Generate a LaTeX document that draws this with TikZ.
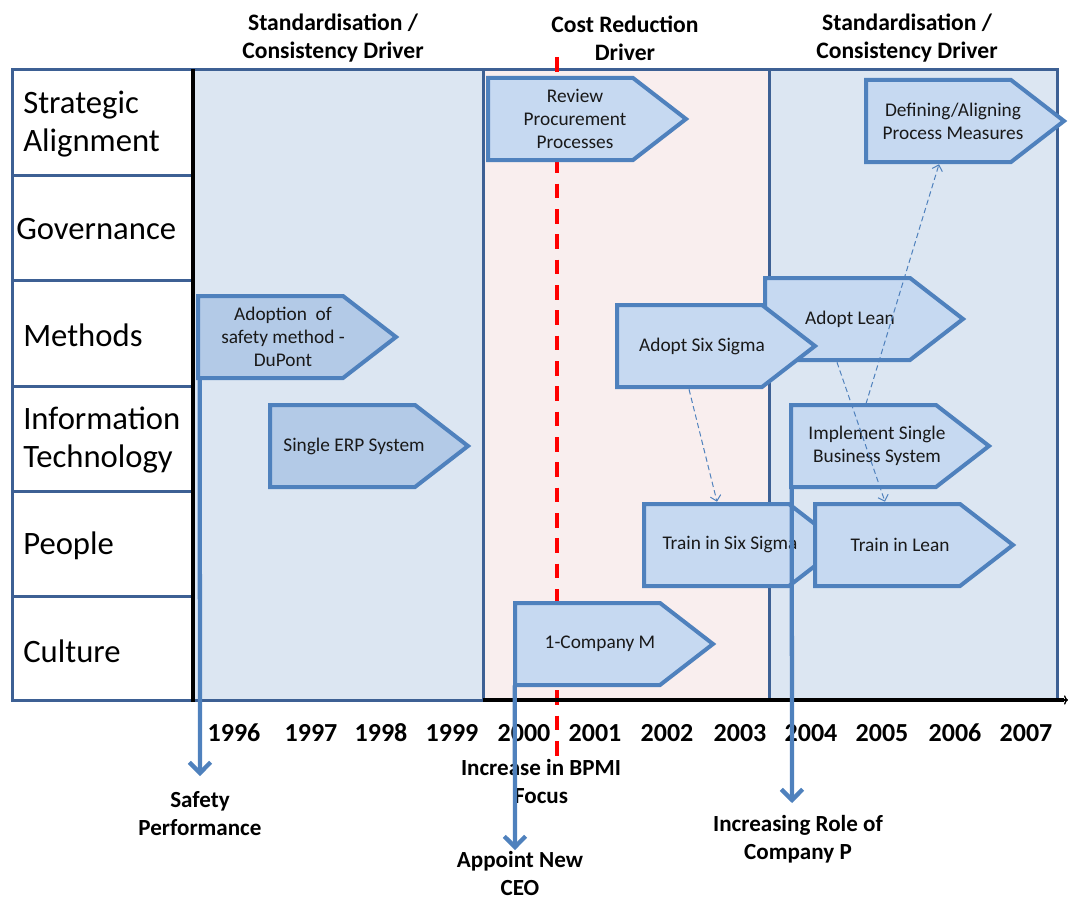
\documentclass[tikz,border=0pt]{standalone}
\usepackage{fontspec}
\setmainfont{Carlito}
\usetikzlibrary{arrows.meta,calc}
\definecolor{regblue}{HTML}{DCE6F2}
\definecolor{regpink}{HTML}{F9EEEE}
\definecolor{edgeblue}{HTML}{3D6094}
\definecolor{boxfill}{HTML}{C6D9F1}
\definecolor{boxfillB}{HTML}{B3CAE7}
\definecolor{boxedge}{HTML}{4F81BD}
\tikzset{
  region/.style={draw=edgeblue, line width=2.25pt},
  lab/.style={font=\fontsize{24.5}{28.5}\selectfont, align=left, anchor=west, inner sep=0pt},
  hdr/.style={font=\fontsize{17.7}{21}\selectfont\bfseries, align=center, inner sep=0pt},
  yr/.style={font=\fontsize{19.5}{23}\selectfont\bfseries, inner sep=0pt},
  evlab/.style={font=\fontsize{17.3}{21}\selectfont\bfseries, align=center, inner sep=0pt},
  tagshape/.style={draw=boxedge, line width=3pt, line join=miter},
  tagframe/.style={rectangle, draw=none, inner sep=0pt, minimum width=148.5pt, minimum height=61.5pt},
  tagtext/.style={font=\fontsize{14.5}{17.25}\selectfont, align=center, inner sep=0pt, text=black!90},
  conn/.style={draw=boxedge, line width=0.75pt, dash pattern=on 4pt off 2.5pt, -{Straight Barb[length=4pt,width=8pt]}},
  event/.style={draw=boxedge, line width=3.2pt, -{Straight Barb[length=8pt,width=16pt]}},
  reddash/.style={draw=red, line width=2.6pt, dash pattern=on 11pt off 8pt}
}
\newcommand{\tagbox}[6]{%
  \path[tagshape, fill=#4] (#2,#3) -- ++(145,0) -- ++(53,41) -- ++(-53,41) -- ++(-145,0) -- cycle;
  \node[tagframe] (#1) at (#2+99,#3+41) {};
  \node[tagtext] (#1t) at (#2+#5,#3+41) {#6};
}
\begin{document}
\begin{tikzpicture}[x=0.75pt,y=-0.75pt]
\useasboundingbox (0,0) rectangle (1068,899);
% headers
\node[hdr] (hdrA) at (333,38) {Standardisation /\\Consistency Driver};
\node[hdr] (hdrB) at (625,38) {Cost Reduction\\Driver};
\node[hdr] (hdrC) at (907,38) {Standardisation /\\Consistency Driver};
% label column
\filldraw[region, fill=white] (12,70) rectangle (193,700);
\foreach \yy in {175,280,386,491,596} \draw[region] (12,\yy) -- (193,\yy);
\node[lab] (lStrat) at (23,124) {Strategic\\Alignment};
\node[lab] (lGov) at (16,229) {Governance};
\node[lab] (lMeth) at (23,335) {Methods};
\node[lab] (lIT) at (23,440) {Information\\Technology};
\node[lab] (lPeople) at (23,546) {People};
\node[lab] (lCult) at (23,651) {Culture};
% regions
\filldraw[region, fill=regblue] (193,70) rectangle (483,700);
\filldraw[region, fill=regpink] (483,70) rectangle (769,700);
\filldraw[region, fill=regblue] (769,70) rectangle (1057,700);
% red dashed line
\draw[reddash] (557,57) -- (557,760);
% axes
\draw[black, line width=2.4pt] (483,700) -- (1064,700);
\draw[black, line width=1pt, -{To[length=3pt,width=7pt]}] (1060,700) -- (1068,700);
\draw[black, line width=2.4pt] (193,69) -- (193,702);
% boxes
\tagbox{adoption}{198}{296}{boxfillB}{85}{Adoption\ \ of\\safety method -\\DuPont}
\tagbox{erp}{270}{405}{boxfillB}{84}{Single ERP System}
\tagbox{review}{488}{78}{boxfill}{87}{Review\\Procurement\\Processes}
\tagbox{defining}{866}{80}{boxfill}{87}{Defining/Aligning\\Process Measures}
\tagbox{lean}{765}{278}{boxfill}{85}{Adopt Lean}
\tagbox{sixsigma}{617}{305}{boxfill}{85}{Adopt Six Sigma}
\tagbox{implement}{791}{405}{boxfill}{86}{Implement Single\\Business System}
\tagbox{trainss}{644}{504}{boxfill}{86}{Train in Six Sigma}
\tagbox{trainlean}{815}{504}{boxfill}{85}{Train in Lean}
\tagbox{company}{515}{603}{boxfill}{85}{1-Company M}
% years
\foreach \yr/\xx in {1996/234, 1997/311, 1998/381, 1999/452, 2000/524, 2001/595, 2002/667, 2003/740, 2004/811, 2005/882, 2006/955, 2007/1026}
  \node[yr] (y\yr) at (\xx,733) {\yr};
% bottom labels
\node[evlab] (safety) at (200,814) {Safety\\Performance};
\node[evlab] (bpmi) at (541,781) {Increase in BPMI\\Focus};
\node[evlab] (ceo) at (520,873) {Appoint New\\CEO};
\node[evlab] (compp) at (798,839) {Increasing Role of\\Company P};
% event arrows
\coordinate (safetyEnd) at (200,776);
\coordinate (ceoEnd) at (515,850);
\coordinate (comppEnd) at (792,803);
\draw[event] ($(adoption.south west)+(2,0)$) -- (safetyEnd);
\draw[event] ($(company.south west)+(0,0)$) -- (ceoEnd);
\draw[event] ($(implement.south west)+(1,0)$) -- (comppEnd);
% dashed connectors
\draw[conn] ($(sixsigma.south)+(-27,2)$) -- ($(trainss.north)+(-26,-2)$);
\draw[conn] ($(lean.south)+(-27,2)$) -- ($(trainlean.north)+(-29,-2)$);
\draw[conn] ($(implement.north)+(-24,-1)$) -- ($(defining.south)+(-26,2)$);
\end{tikzpicture}
\end{document}
